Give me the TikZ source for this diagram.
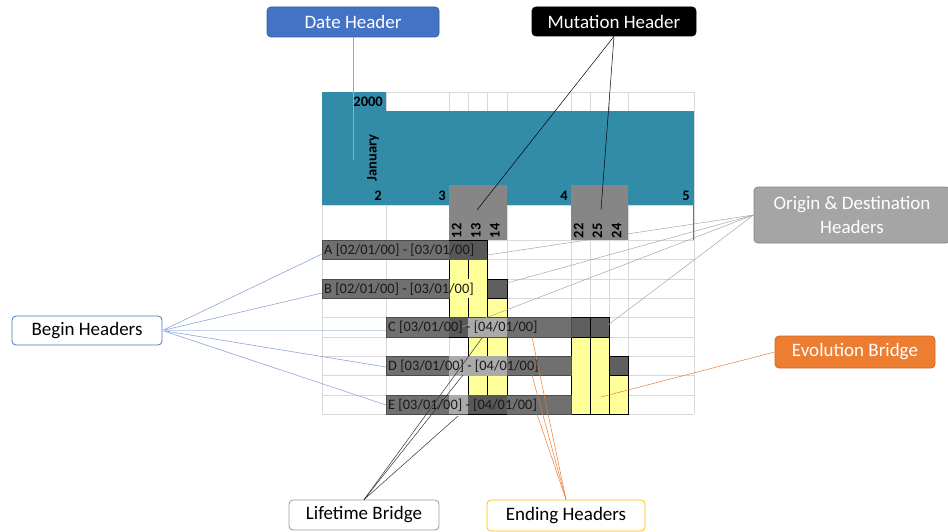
\documentclass[tikz,border=0pt]{standalone}
\usepackage{fontspec}
\setmainfont{Carlito}

\definecolor{hdrteal}{RGB}{50,140,168}
\definecolor{mutgray}{RGB}{134,134,134}
\definecolor{bargray}{RGB}{112,112,112}
\definecolor{barlight}{RGB}{170,170,170}
\definecolor{bardark}{RGB}{88,88,88}
\definecolor{celldark}{RGB}{95,95,95}
\definecolor{bridgeyel}{RGB}{255,255,153}
\definecolor{gridgray}{RGB}{217,217,217}
\definecolor{dateblue}{RGB}{68,114,196}
\definecolor{evoorange}{RGB}{237,125,49}
\definecolor{odgray}{RGB}{165,165,165}
\definecolor{endgold}{RGB}{255,192,0}
\definecolor{beginline}{RGB}{143,166,214}

\tikzset{
  grid line/.style={draw=gridgray, line width=0.6pt},
  callout/.style={rounded corners=4pt, line width=0.8pt, inner sep=0pt,
    font=\fontsize{19}{24}\selectfont},
  hdrnum/.style={font=\bfseries\fontsize{14.5}{16}\selectfont, inner sep=0pt},
  barlabel/.style={font=\fontsize{14.4}{16}\selectfont, anchor=west,
    inner sep=0pt, text=black!90},
  bar/.style={fill=bargray, draw=black!70, line width=0.5pt},
  yel/.style={fill=bridgeyel, draw=black, line width=0.9pt},
  mutcell/.style={fill=celldark, draw=black, line width=1pt},
}

\begin{document}
\begin{tikzpicture}[x=1pt, y=-1pt]
        \useasboundingbox (0,0) rectangle (948,532);
        % sheet grid
        \foreach \x in {322,386,449,468,487.5,507,571,590,609,628,694}
            \draw[grid line] (\x,92) -- (\x,414);
        \foreach \y in {92,111,205,240,259.5,279,298,317.5,337,356,375.5,395,414}
            \draw[grid line] (322,\y) -- (694,\y);
        \fill[hdrteal] (322,92) rectangle (386,205);
        \fill[hdrteal] (386,111) rectangle (694,205);

        % bridges and mutation cells
        \draw[yel] (449,259.5) rectangle (487.5,317.5);
        \draw[black, line width=0.9pt] (468,259.5) -- (468,279) (468,298) -- (468,317.5);
        \draw[yel] (487.5,298) rectangle (507,317.5);
        \draw[mutcell] (487.5,279) rectangle (507,298);
        \draw[yel] (468,337) rectangle (507,395);
        \draw[black, line width=0.9pt] (487.5,337) -- (487.5,395);
        \draw[yel] (571,337) rectangle (609,414);
        \draw[black, line width=0.9pt] (590,337) -- (590,414);
        \draw[yel] (609,375.5) rectangle (628,414);
        \draw[mutcell] (571,317.5) rectangle (590,337);
        \draw[mutcell] (590,317.5) rectangle (609,337);
        \draw[mutcell] (609,356) rectangle (628,375.5);

        % lifetime bars
        \draw[bar] (322,240) rectangle (487.5,259.5);
        \fill[bardark] (449,240) rectangle (487.5,259.5);
        \draw[black, line width=0.9pt] (449,240) -- (487.5,240) -- (487.5,259.5);
        \draw[bar] (322,279) rectangle (449,298);
        \draw[bar] (386,317.5) rectangle (571,337);
        \fill[bardark] (449,317.5) rectangle (468,337);
        \draw[black, line width=0.9pt] (449,337) -- (468,337);
        \fill[barlight] (468,317.5) rectangle (507,337);
        \draw[bar] (386,356) rectangle (571,375.5);
        \fill[barlight] (449,356) rectangle (507,375.5);
        \draw[bar] (386,395) rectangle (571,414);
        \fill[barlight] (449,395) rectangle (468,414);
        \fill[bardark] (468,395) rectangle (507,414);
        \draw[black, line width=0.9pt] (468,414) -- (507,414);

        \node[barlabel] (labA) at (324,250) {A [02/01/00] - [03/01/00]};
        \node[barlabel] (labB) at (324,289) {B [02/01/00] - [03/01/00]};
        \node[barlabel] (labC) at (388,327.5) {C [03/01/00] - [04/01/00]};
        \node[barlabel] (labD) at (388,366) {D [03/01/00] - [04/01/00]};
        \node[barlabel] (labE) at (388,405) {E [03/01/00] - [04/01/00]};

        % origin & destination links, behind the mutation blocks
        \node[callout, fill=odgray, draw=odgray!80!black, text=white, align=center,
            minimum width=196pt, minimum height=56pt] (orig) at (852,215)
            {Origin \& Destination\\Headers};
        \coordinate (aEnd) at (487.5,255);
        \coordinate (bEnd) at (507,283);
        \coordinate (cOrig) at (462,327);
        \coordinate (cEnd) at (608,325);
        \foreach \p in {aEnd,bEnd,cOrig,cEnd}
            \draw[odgray, line width=0.5pt] (orig.west) -- (\p);

        % mutation header blocks
        \fill[mutgray] (449,185) rectangle (507,240);
        \fill[mutgray] (571,185) rectangle (628,240);
        \draw[black!55, line width=1pt] (693.5,185) -- (693.5,240);

        % header texts
        \node[hdrnum, anchor=east] (yr) at (383,102) {2000};
        \node[hdrnum, rotate=90] (mon) at (373,158) {January};
        \node[hdrnum, anchor=east] (d2) at (382,196) {2};
        \node[hdrnum, anchor=east] (d3) at (446,196) {3};
        \node[hdrnum, anchor=east] (d4) at (568,196) {4};
        \node[hdrnum, anchor=east] (d5) at (690,196) {5};
        \foreach \n/\x in {12/456.5,13/476,14/495,22/578.5,25/597.5,24/616.5}
            \node[hdrnum, rotate=90, anchor=west] (m\n) at (\x,238.5) {\n};

        % callouts
        \node[callout, fill=dateblue, draw=dateblue!80!black, text=white,
            minimum width=172pt, minimum height=30pt] (date) at (353,22) {Date Header};
        \node[callout, fill=black, draw=black, text=white,
            minimum width=164pt, minimum height=29pt] (mut) at (614,21.5) {Mutation Header};
        \node[callout, fill=white, draw=dateblue,
            minimum width=150pt, minimum height=29pt] (begin) at (87,330.5) {Begin Headers};
        \node[callout, fill=evoorange, draw=evoorange!85!black, text=white,
            minimum width=160pt, minimum height=32pt] (evo) at (855,352) {Evolution Bridge};
        \node[callout, fill=white, draw=black!40,
            minimum width=150pt, minimum height=30pt] (life) at (364,515) {Lifetime Bridge};
        \node[callout, fill=white, draw=endgold,
            minimum width=158pt, minimum height=31pt] (endh) at (566,515.5) {Ending Headers};

        % connectors
        \coordinate (dateEnd) at (353,160);
        \draw[black!35, line width=0.6pt] (date.south) -- (dateEnd);

        \coordinate (mut13) at (477,210);
        \coordinate (mut25) at (601,210);
        \draw[black, line width=0.5pt] (mut.south) -- (mut13);
        \draw[black, line width=0.5pt] (mut.south) -- (mut25);

        \coordinate (aStart) at (322,254);
        \coordinate (bStart) at (322,293);
        \coordinate (cStart) at (386,330.5);
        \coordinate (dStart) at (386,367);
        \coordinate (eStart) at (386,405);
        \foreach \p in {aStart,bStart,dStart,eStart}
            \draw[beginline, line width=0.6pt] (begin.east) -- (\p);
        \draw[beginline!50, line width=1.4pt] (begin.east) -- (cStart);

        \coordinate (evoPt) at (601,397);
        \draw[evoorange, line width=0.5pt] (evo.west) -- (evoPt);

        \coordinate (lifeC) at (482,338);
        \coordinate (lifeD) at (463,375);
        \coordinate (lifeE) at (458,416);
        \foreach \p in {lifeC,lifeD,lifeE}
            \draw[black!80, line width=0.5pt] (life.north) -- (\p);

        \coordinate (endC) at (532,337);
        \coordinate (endD) at (532,375);
        \coordinate (endE) at (537,414);
        \foreach \p in {endC,endD,endE}
            \draw[evoorange, line width=0.5pt] (endh.north) -- (\p);
\end{tikzpicture}
\end{document}
